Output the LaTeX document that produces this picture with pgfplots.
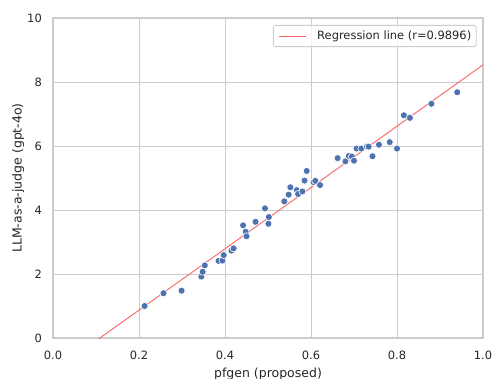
\documentclass[border=0pt]{standalone}
\usepackage{fontspec}
\setmainfont{DejaVu Sans}
\usepackage{pgfplots}
\pgfplotsset{compat=1.18}
\definecolor{gridc}{RGB}{204,204,204}
\definecolor{txtc}{RGB}{38,38,38}
\definecolor{dotc}{RGB}{76,114,176}
\definecolor{regc}{RGB}{246,100,100}
\begin{document}
\begin{tikzpicture}
\begin{axis}[
  scale only axis,
  width=430pt, height=320pt,
  xmin=0, xmax=1, ymin=0, ymax=10,
  xtick={0,0.2,0.4,0.6,0.8,1.0},
  ytick={0,2,4,6,8,10},
  major tick length=0pt,
  grid=major,
  major grid style={draw=gridc, line width=1pt},
  axis line style={draw=gridc, line width=1.3pt},
  /pgf/number format/assume math mode=true,
  xticklabel style={/pgf/number format/fixed, /pgf/number format/fixed zerofill, /pgf/number format/precision=1},
  tick label style={font=\fontsize{11.46}{13}\selectfont, text=txtc},
  x tick label style={anchor=north, inner sep=0pt, yshift=-13pt},
  y tick label style={anchor=east, inner sep=0pt, xshift=-11pt},
  xlabel={pfgen (proposed)},
  ylabel={LLM-as-a-judge (gpt-4o)},
  label style={font=\fontsize{12.5}{14}\selectfont, text=txtc},
  xlabel style={at={(axis description cs:0.5,-0.1235)}, anchor=base, inner sep=0pt},
  ylabel style={at={(axis description cs:-0.0728,0.5)}, anchor=base, inner sep=0pt},
  legend style={at={(rel axis cs:1,1)}, anchor=north east, xshift=-6.3pt, yshift=-7pt,
    draw=gridc, line width=0.9pt, rounded corners=2.5pt, fill=white, fill opacity=0.8, text opacity=1,
    font=\fontsize{11.46}{13}\selectfont, text=txtc,
    inner xsep=5pt, inner ysep=5.5pt, nodes={inner sep=0pt}, column sep=11pt},
  legend cell align=left,
]
\addplot[only marks, mark=*, mark size=3.5pt, mark options={fill=dotc, draw=white, line width=0.6pt}, forget plot]
coordinates {
(0.213,1.00) (0.257,1.40) (0.299,1.48) (0.345,1.92) (0.348,2.07) (0.353,2.27)
(0.385,2.41) (0.394,2.42) (0.397,2.59) (0.415,2.73) (0.420,2.80) (0.442,3.52)
(0.448,3.32) (0.450,3.18) (0.471,3.63) (0.493,4.05) (0.502,3.78) (0.501,3.57)
(0.538,4.27) (0.548,4.48) (0.552,4.71) (0.567,4.62) (0.570,4.50) (0.580,4.58)
(0.585,4.92) (0.590,5.22) (0.606,4.87) (0.610,4.91) (0.621,4.78) (0.662,5.62)
(0.680,5.52) (0.688,5.69) (0.695,5.67) (0.700,5.54) (0.706,5.92) (0.717,5.92)
(0.730,5.98) (0.734,5.98) (0.743,5.68) (0.758,6.04) (0.783,6.12) (0.800,5.92)
(0.816,6.96) (0.830,6.88) (0.880,7.32) (0.940,7.68)
};
\addplot[regc, line width=0.9pt, legend image code/.code={\draw[regc, line width=0.9pt] (0pt,0pt) -- (27pt,0pt);}]
coordinates {(0,-1.045) (1,8.535)};
\addlegendentry{Regression line (r=0.9896)}
\coordinate (bl) at (rel axis cs:0,0);
\coordinate (tr) at (rel axis cs:1,1);
\end{axis}
\pgfresetboundingbox
\path[use as bounding box] ([shift={(-53pt,-40pt)}]bl) rectangle ([shift={(11pt,18pt)}]tr);
\end{tikzpicture}
\end{document}
